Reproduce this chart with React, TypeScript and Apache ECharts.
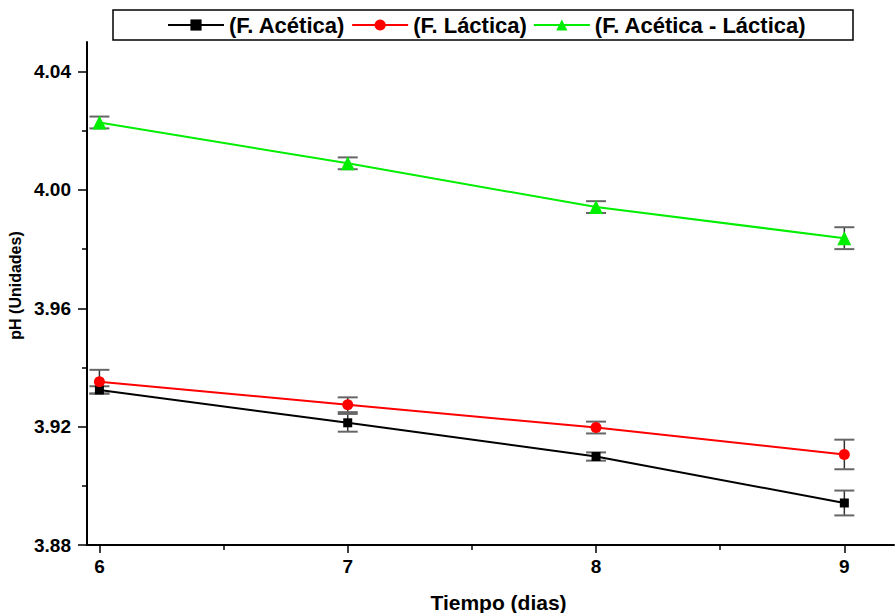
import React, { useEffect, useRef } from "react";
import * as echarts from "echarts";

const days = [6, 7, 8, 9];
const acetica = [3.9324, 3.9213, 3.9099, 3.8942];
const aceticaErr = [0.00125, 0.003, 0.0014, 0.0042];
const lactica = [3.9352, 3.9274, 3.9197, 3.9106];
const lacticaErr = [0.004, 0.0025, 0.002, 0.005];
const mixta = [4.0228, 4.009, 3.9942, 3.9837];
const mixtaErr = [0.002, 0.002, 0.002, 0.0037];

const yMajor = [3.88, 3.92, 3.96, 4.0, 4.04];
const yMinor = [3.9, 3.94, 3.98, 4.02];
const xMajor = [6, 7, 8, 9];
const xMinor = [6.5, 7.5, 8.5];

const names = ["(F. Acética)", "(F. Láctica)", "(F. Acética - Láctica)"];

const FONT = "'Liberation Sans', Arial, sans-serif";

function errData(vals: number[], errs: number[]) {
  return days.map((d, i) => [d, vals[i] - errs[i], vals[i] + errs[i]]);
}

function renderErr(params: any, api: any) {
  const x = api.value(0);
  const lo = api.coord([x, api.value(1)]);
  const hi = api.coord([x, api.value(2)]);
  const hw = 10;
  return {
    type: "group",
    children: [
      { type: "line", shape: { x1: lo[0], y1: lo[1], x2: hi[0], y2: hi[1] }, style: { stroke: "#333", lineWidth: 1.5 } },
      { type: "line", shape: { x1: lo[0] - hw, y1: lo[1], x2: lo[0] + hw, y2: lo[1] }, style: { stroke: "#666", lineWidth: 2 } },
      { type: "line", shape: { x1: hi[0] - hw, y1: hi[1], x2: hi[0] + hw, y2: hi[1] }, style: { stroke: "#666", lineWidth: 2 } },
    ],
  };
}

export default function App() {
  const ref = useRef<HTMLDivElement>(null);
  useEffect(() => {
    if (!ref.current) return;
    const chart = echarts.init(ref.current, null, { renderer: "svg" });
    const xBase = { type: "value", min: 5.95, max: 9.2, gridIndex: 0 };
    const yBase = { type: "value", min: 3.88, max: 4.05, gridIndex: 0 };
    const labelStyle = { color: "#000", fontWeight: "bold", fontSize: 19, fontFamily: FONT };
    chart.setOption({
      animation: false,
      backgroundColor: "#fff",
      grid: { left: 87, right: 2, top: 42, bottom: 68, containLabel: false, outerBoundsMode: "none" },
      graphic: [
        {
          type: "rect",
          shape: { x: 113, y: 10, width: 740, height: 30 },
          style: { fill: "#fff", stroke: "#000", lineWidth: 1.5 },
          z: 0,
        },
      ],
      legend: {
        left: 167,
        top: 14,
        itemWidth: 56,
        itemHeight: 14,
        itemGap: 6,
        padding: 0,
        data: names,
        textStyle: { color: "#000", fontWeight: "bold", fontSize: 22, fontFamily: FONT },
        z: 5,
      },
      xAxis: [
        {
          ...xBase,
          name: "Tiempo (dias)",
          nameLocation: "middle",
          nameGap: 47,
          nameTextStyle: { color: "#000", fontWeight: "bold", fontSize: 21, fontFamily: FONT, padding: [0, 0, 0, 16] },
          axisLine: { show: true, lineStyle: { color: "#000", width: 2 } },
          axisTick: { show: true, length: 8, lineStyle: { color: "#000", width: 1.5 }, customValues: xMajor },
          axisLabel: { ...labelStyle, margin: 12, customValues: xMajor },
          splitLine: { show: false },
        },
        {
          ...xBase,
          position: "bottom",
          axisLine: { show: false },
          axisTick: { show: true, length: 5, lineStyle: { color: "#000", width: 1.5 }, customValues: xMinor },
          axisLabel: { show: false },
          splitLine: { show: false },
        },
      ],
      yAxis: [
        {
          ...yBase,
          name: "pH (Unidades)",
          nameLocation: "middle",
          nameGap: 64,
          nameTextStyle: { color: "#000", fontWeight: "bold", fontSize: 16, fontFamily: FONT, padding: [0, 0, 0, 16] },
          axisLine: { show: true, lineStyle: { color: "#000", width: 2 } },
          axisTick: { show: true, length: 9, lineStyle: { color: "#000", width: 1.5 }, customValues: yMajor },
          axisLabel: {
            ...labelStyle,
            margin: 16,
            customValues: yMajor,
            formatter: (v: number) => v.toFixed(2),
          },
          splitLine: { show: false },
        },
        {
          ...yBase,
          position: "left",
          axisLine: { show: false },
          axisTick: { show: true, length: 5, lineStyle: { color: "#000", width: 1.5 }, customValues: yMinor },
          axisLabel: { show: false },
          splitLine: { show: false },
        },
      ],
      series: [
        { type: "custom", renderItem: renderErr, data: errData(acetica, aceticaErr), z: 1, silent: true },
        { type: "custom", renderItem: renderErr, data: errData(lactica, lacticaErr), z: 1, silent: true },
        { type: "custom", renderItem: renderErr, data: errData(mixta, mixtaErr), z: 1, silent: true },
        {
          name: names[0],
          type: "line",
          data: days.map((d, i) => [d, acetica[i]]),
          symbol: "rect",
          symbolSize: 9,
          color: "#000",
          lineStyle: { color: "#000", width: 2 },
          itemStyle: { color: "#000" },
          z: 3,
        },
        {
          name: names[1],
          type: "line",
          data: days.map((d, i) => [d, lactica[i]]),
          symbol: "circle",
          symbolSize: 11,
          color: "#ff0000",
          lineStyle: { color: "#ff0000", width: 2 },
          itemStyle: { color: "#ff0000" },
          z: 3,
        },
        {
          name: names[2],
          type: "line",
          data: days.map((d, i) => [d, mixta[i]]),
          symbol: "triangle",
          symbolSize: 14,
          color: "#00ee00",
          lineStyle: { color: "#00ee00", width: 2 },
          itemStyle: { color: "#00ee00" },
          z: 3,
        },
      ],
    });
    return () => chart.dispose();
  }, []);
  return <div ref={ref} style={{ width: 896, height: 613, position: "absolute", left: 0, top: 0 }} />;
}
